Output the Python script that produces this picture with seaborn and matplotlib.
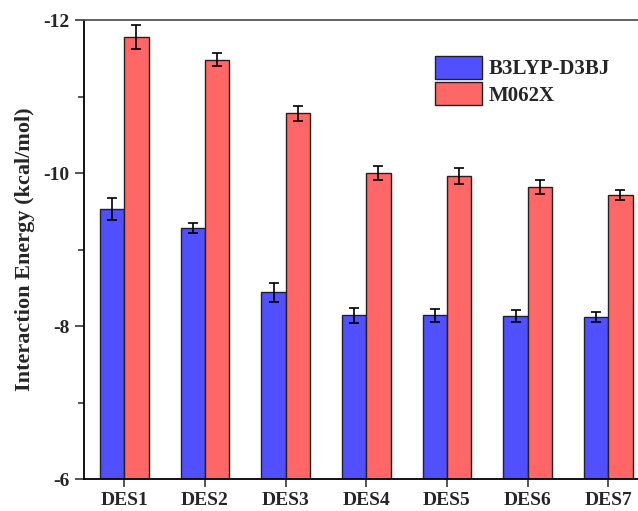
import matplotlib
matplotlib.use("Agg")
import matplotlib.pyplot as plt
from matplotlib.ticker import MultipleLocator
import seaborn as sns
import pandas as pd

categories = ["DES1", "DES2", "DES3", "DES4", "DES5", "DES6", "DES7"]
methods = ["B3LYP-D3BJ", "M062X"]
b3lyp = [-9.53, -9.28, -8.44, -8.14, -8.14, -8.13, -8.12]
b3lyp_err = [0.14, 0.07, 0.12, 0.10, 0.085, 0.075, 0.065]
m062x = [-11.78, -11.48, -10.78, -10.00, -9.96, -9.82, -9.71]
m062x_err = [0.16, 0.085, 0.10, 0.09, 0.10, 0.09, 0.065]
yticks = [-12, -10, -8, -6]

colors = ["#5050FF", "#FF6666"]

df = pd.DataFrame({
    "cat": categories * 2,
    "method": [methods[0]] * len(categories) + [methods[1]] * len(categories),
    "val": b3lyp + m062x,
})

sns.set_style("white")
plt.rcParams["font.family"] = ["Liberation Serif", "DejaVu Serif"]
plt.rcParams["font.weight"] = "bold"

fig = plt.figure(figsize=(6.38, 5.11), dpi=100)
W, H = 638, 511
left_px, right_px, top_px, bot_px = 84, 84 + 7 * 80.67, 20, 479
ax = fig.add_axes([left_px / W, 1 - bot_px / H, (right_px - left_px) / W, (bot_px - top_px) / H])

sns.barplot(data=df, x="cat", y="val", hue="method", order=categories,
            hue_order=methods, palette=colors, width=0.6, gap=0,
            edgecolor="#222222", linewidth=1.0, ax=ax, errorbar=None,
            saturation=1)

errs = [b3lyp_err, m062x_err]
vals = [b3lyp, m062x]
for cont, v, e in zip(ax.containers, vals, errs):
    xs = [p.get_x() + p.get_width() / 2 for p in cont.patches]
    ax.errorbar(xs, v, yerr=e, fmt="none", ecolor="black",
                elinewidth=1.2, capsize=3.6, capthick=1.2, zorder=5)

ax.set_xlim(-0.5, 6.5)
ax.set_ylim(-6, -12)
ax.set_yticks(yticks)
ax.yaxis.set_minor_locator(MultipleLocator(1))
ax.set_yticklabels([str(t) for t in yticks], fontsize=14, fontweight="bold")
ax.set_xticks(range(len(categories)))
ax.set_xticklabels(categories, fontsize=14, fontweight="bold")
ax.tick_params(axis="y", which="major", direction="out", length=6.5, width=1.1, left=True, pad=4)
ax.tick_params(axis="y", which="minor", direction="out", length=4, width=1.1, left=True)
ax.tick_params(axis="x", which="major", direction="out", length=6, width=1.1, bottom=True, pad=3)
ax.set_xlabel("")
ax.set_ylabel("Interaction Energy (kcal/mol)", fontsize=16, fontweight="bold", labelpad=6)

for s in ["left", "bottom"]:
    ax.spines[s].set_color("black")
    ax.spines[s].set_linewidth(1.3)
ax.spines["top"].set_color("#555555")
ax.spines["top"].set_linewidth(1.3)
ax.spines["right"].set_visible(False)

handles, labels = ax.get_legend_handles_labels()
ax.legend(handles, labels, loc="upper left",
          bbox_to_anchor=(435 / W, 1 - 56 / H), bbox_transform=fig.transFigure,
          frameon=False, borderpad=0, borderaxespad=0,
          handlelength=2.26, handleheight=1.3, handletextpad=0.3,
          labelspacing=0.15, prop={"size": 15, "weight": "bold"})

fig.savefig("out.png", dpi=100)
